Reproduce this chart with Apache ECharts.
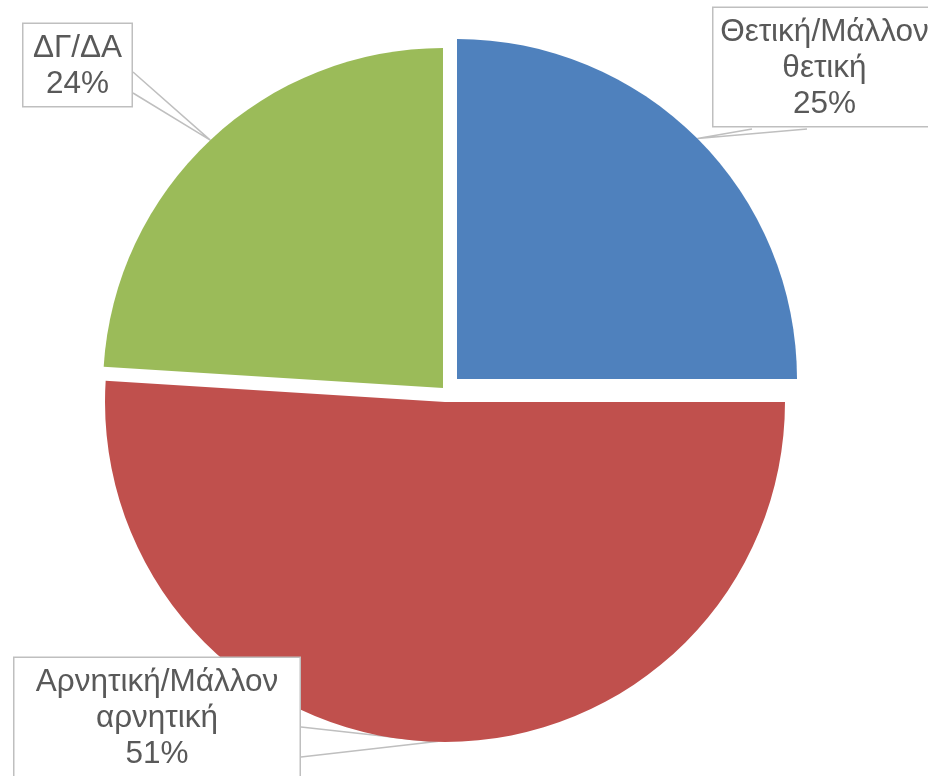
<!DOCTYPE html>
<html>
<head>
<meta charset="utf-8">
<script src="https://cdn.jsdelivr.net/npm/echarts@6/dist/echarts.min.js"></script>
<style>
  html, body { margin: 0; padding: 0; background: #fff; }
  #chart { width: 928px; height: 776px; }
</style>
</head>
<body>
<div id="chart"></div>
<script>
const categories = ['Θετική/Μάλλον θετική', 'Αρνητική/Μάλλον αρνητική', 'ΔΓ/ΔΑ'];
const values = [25, 51, 24];
const colors = ['#4f81bd', '#c0504d', '#9bbb59'];

// every slice is pulled out by its own amount, so each one gets its own centre
const centers = [[457, 379], [445, 402], [443, 388]];
const RADIUS = 340;

// callout boxes (outer left/top, content width) and where the wedge leaves the box
const callouts = [
  { left: 712, top: 8, width: 202, side: 'bottom', a: 40, b: 95 },
  { left: 13, top: 658, width: 265, side: 'right', a: 69, b: 99 },
  { left: 22, top: 24, width: 88, side: 'right', a: 48, b: 69 }
];

const total = values.reduce((s, v) => s + v, 0);

// fallback for the wedge tip: point on the rim at the middle of the slice
function rimPoint(i) {
  let before = 0;
  for (let k = 0; k < i; k++) before += values[k];
  const mid = (90 - (before + values[i] / 2) / total * 360) * Math.PI / 180;
  return [centers[i][0] + RADIUS * Math.cos(mid), centers[i][1] - RADIUS * Math.sin(mid)];
}

function calloutLayout(params) {
  const i = params.dataIndex;
  const c = callouts[i];
  const w = params.labelRect.width;
  const h = params.labelRect.height;
  const tip = params.labelLinePoints && params.labelLinePoints.length
    ? params.labelLinePoints[0] : rimPoint(i);
  let p1, p2;
  if (c.side === 'bottom') {
    p1 = [c.left + c.a, c.top + h];
    p2 = [c.left + c.b, c.top + h];
  } else {
    p1 = [c.left + w, c.top + c.a];
    p2 = [c.left + w, c.top + c.b];
  }
  return {
    x: c.left + w / 2,
    y: c.top,
    align: 'center',
    verticalAlign: 'top',
    labelLinePoints: [p1, tip, p2]
  };
}

const chart = echarts.init(document.getElementById('chart'));

const series = categories.map((_, k) => ({
  type: 'pie',
  center: centers[k],
  radius: RADIUS,
  startAngle: 90,
  clockwise: true,
  silent: true,
  avoidLabelOverlap: false,
  animation: false,
  labelLayout: calloutLayout,
  data: categories.map((name, i) => {
    const own = i === k;
    return {
      name: name,
      value: values[i],
      itemStyle: { color: own ? colors[i] : 'rgba(0,0,0,0)', borderWidth: 0 },
      label: {
        show: own,
        position: 'outside',
        width: callouts[i].width,
        overflow: 'none',
        formatter: p => p.name.replace(' ', '\n') + '\n' + Math.round(p.percent) + '%',
        fontFamily: 'Liberation Sans, Arial, sans-serif',
        fontSize: 31.5,
        lineHeight: 36,
        color: '#595959',
        align: 'center',
        backgroundColor: '#fff',
        borderColor: '#bfbfbf',
        borderWidth: 1.5,
        padding: [6, 10, 4, 10]
      },
      labelLine: {
        show: own,
        smooth: false,
        lineStyle: { color: '#bfbfbf', width: 1.5 }
      }
    };
  })
}));

chart.setOption({
  backgroundColor: '#fff',
  animation: false,
  series: series
});
</script>
</body>
</html>
